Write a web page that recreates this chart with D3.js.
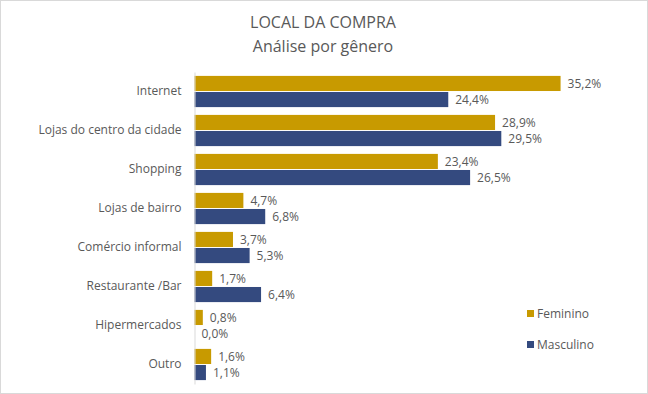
<!DOCTYPE html>
<html>
<head>
<meta charset="utf-8">
<script src="https://cdn.jsdelivr.net/npm/d3@7"></script>
<style>
  body { margin: 0; background: #fff; }
  text { font-family: "Open Sans", sans-serif; fill: #595959; }
</style>
</head>
<body>
<div id="chart"></div>
<script>
// local da compra, analise por genero

const categories = ["Internet", "Lojas do centro da cidade", "Shopping", "Lojas de bairro",
  "Comércio informal", "Restaurante /Bar", "Hipermercados", "Outro"]
const feminino = [35.2, 28.9, 23.4, 4.7, 3.7, 1.7, 0.8, 1.6]
const masculino = [24.4, 29.5, 26.5, 6.8, 5.3, 6.4, 0.0, 1.1]
const seriesNames = ["Feminino", "Masculino"]

function renderBars(frame_id) {
    let width = 648
    let height = 394

    var svg = d3.select("#" + frame_id)
        .append("svg")
        .attr("width", width)
        .attr("height", height)

    svg.append("rect")
        .attr("x", 0.5).attr("y", 0.5)
        .attr("width", width - 1).attr("height", height - 1)
        .attr("fill", "#fff")
        .attr("stroke", "#d9d9d9")

    svg.append("text")
        .attr("x", 323).attr("y", 28)
        .attr("text-anchor", "middle")
        .style("font-size", "16px")
        .text("LOCAL DA COMPRA")

    svg.append("text")
        .attr("x", 323).attr("y", 52)
        .attr("text-anchor", "middle")
        .style("font-size", "16px")
        .text("Análise por gênero")

    var x = d3.scaleLinear().domain([0, 40]).range([194.5, 610.5])
    var y = d3.scaleBand().domain(categories).range([72, 384]).paddingInner(0.2).paddingOuter(0.1)
    var inner = d3.scaleBand().domain(seriesNames).range([0, y.bandwidth()]).paddingInner(0.06)
    var color = d3.scaleOrdinal().domain(seriesNames).range(["#C89A00", "#344A7F"])

    var rows = categories.map(function (c, i) {
        return { cat: c, values: [
            { key: "Feminino", value: feminino[i] },
            { key: "Masculino", value: masculino[i] }
        ] }
    })

    var groups = svg.selectAll("g.row")
        .data(rows)
        .enter()
        .append("g")
        .attr("class", "row")
        .attr("transform", function (d) { return "translate(0," + y(d.cat) + ")" })

    groups.selectAll("rect")
        .data(function (d) { return d.values })
        .enter()
        .append("rect")
        .attr("x", x(0))
        .attr("y", function (d) { return inner(d.key) })
        .attr("width", function (d) { return x(d.value) - x(0) })
        .attr("height", inner.bandwidth())
        .attr("fill", function (d) { return color(d.key) })

    groups.selectAll("text.val")
        .data(function (d) { return d.values })
        .enter()
        .append("text")
        .attr("class", "val")
        .attr("x", function (d) { return x(d.value) + 7 })
        .attr("y", function (d) { return inner(d.key) + inner.bandwidth() / 2 })
        .attr("dy", "0.35em")
        .style("font-size", "12px")
        .text(function (d) { return d.value.toFixed(1).replace(".", ",") + "%" })

    var yAxis = svg.append("g")
        .attr("transform", "translate(" + x(0) + ",0)")
        .call(d3.axisLeft(y).tickSize(0).tickPadding(13))
    yAxis.select(".domain").attr("stroke", "#d9d9d9")
    yAxis.selectAll("text")
        .style("font-size", "12px")
        .style("font-family", "'Open Sans', sans-serif")
        .attr("fill", "#595959")

    var legend = svg.selectAll("g.legend")
        .data(seriesNames)
        .enter()
        .append("g")
        .attr("class", "legend")
        .attr("transform", function (d, i) { return "translate(527," + (314 + i * 31) + ")" })

    legend.append("rect")
        .attr("x", 0).attr("y", -4)
        .attr("width", 7).attr("height", 7)
        .attr("fill", function (d) { return color(d) })

    legend.append("text")
        .attr("x", 10).attr("y", 0)
        .attr("dy", "0.35em")
        .style("font-size", "12px")
        .text(function (d) { return d })
}

document.addEventListener('DOMContentLoaded', function () { renderBars("chart") }, false);
</script>
</body>
</html>
